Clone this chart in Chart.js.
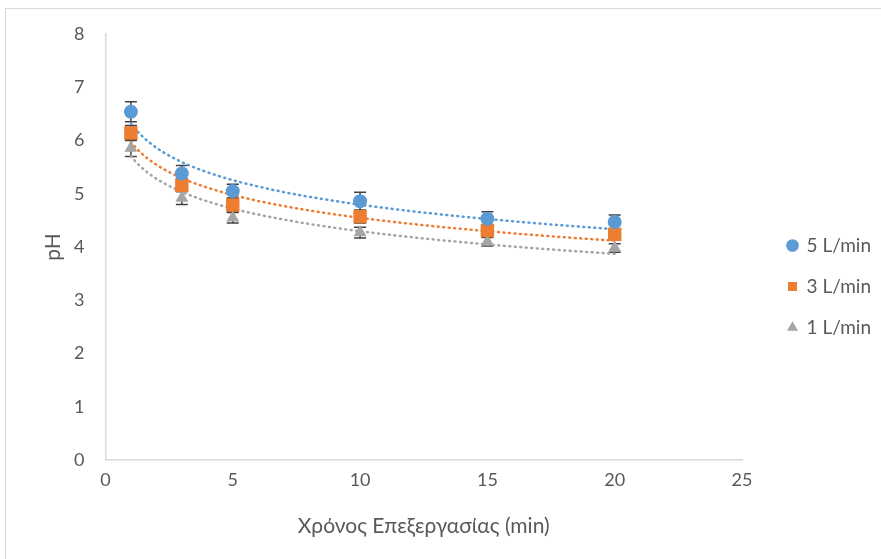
<!DOCTYPE html>
<html>
<head>
<meta charset="utf-8">
<script src="https://cdn.jsdelivr.net/npm/chart.js@4/dist/chart.umd.min.js"></script>
<style>
    body { margin: 0; background: #fff; }
    .frame { position: absolute; left: 5px; top: 8px; width: 900px; height: 600px; border: 1px solid #d9d9d9; }
    canvas { position: absolute; left: 0; top: 0; }
</style>
</head>
<body>
<div class="frame"></div>
<canvas id="chart" width="881" height="559"></canvas>
<script>
// treatment time (min)
const times = [1, 3, 5, 10, 15, 20]
// pH per air flow rate
const ph_5 = [6.54, 5.38, 5.05, 4.86, 4.53, 4.47]
const ph_3 = [6.14, 5.16, 4.79, 4.57, 4.31, 4.24]
const ph_1 = [5.86, 4.92, 4.55, 4.27, 4.10, 3.98]
// standard deviations for the error bars
const err_5 = [0.19, 0.15, 0.13, 0.17, 0.13, 0.13]
const err_3 = [0.14, 0.12, 0.12, 0.12, 0.10, 0.10]
const err_1 = [0.16, 0.12, 0.10, 0.10, 0.08, 0.08]
const labels = ['5 L/min', '3 L/min', '1 L/min']

const COLORS = {
    blue: '#5b9bd5',
    orange: '#ed7d31',
    gray: '#a5a5a5',
    text: '#595959',
    axis: '#d9d9d9',
    errbar: '#404040'
}

// least squares fit of y = a + b*ln(x), sampled for a dotted trendline
function log_trend(xs, ys){
    const lx = xs.map(x => Math.log(x))
    const n = xs.length
    const mx = lx.reduce((s, v) => s + v, 0) / n
    const my = ys.reduce((s, v) => s + v, 0) / n
    let sxy = 0, sxx = 0
    for(let i = 0; i < n; i++){
        sxy += (lx[i] - mx) * (ys[i] - my)
        sxx += (lx[i] - mx) * (lx[i] - mx)
    }
    const b = sxy / sxx
    const a = my - b * mx
    const pts = []
    const x0 = xs[0], x1 = xs[n - 1]
    for(let k = 0; k <= 120; k++){
        const x = x0 + (x1 - x0) * k / 120
        pts.push({ x: x, y: a + b * Math.log(x) })
    }
    return pts
}

function points(ys){
    return ys.map((y, i) => ({ x: times[i], y: y }))
}

function series(label, ys, errs, color, style, radius){
    return {
        label: label,
        data: points(ys),
        errors: errs,
        showLine: false,
        pointStyle: style,
        pointRadius: radius,
        pointHoverRadius: radius,
        pointBackgroundColor: color,
        pointBorderColor: color,
        backgroundColor: color,
        borderColor: color,
        borderWidth: 0,
        order: 1
    }
}

function trend(ys, color){
    return {
        label: 'trend',
        data: log_trend(times, ys),
        showLine: true,
        pointRadius: 0,
        borderColor: color,
        borderWidth: 2.5,
        borderDash: [1, 4.5],
        borderCapStyle: 'round',
        tension: 0,
        fill: false,
        order: 2
    }
}

// vertical error bars with caps, drawn under the markers
const errorBars = {
    id: 'errorBars',
    beforeDatasetsDraw(chart){
        const { ctx, scales: { x, y } } = chart
        ctx.save()
        ctx.strokeStyle = COLORS.errbar
        ctx.lineWidth = 1.5
        chart.data.datasets.forEach(ds => {
            if(!ds.errors) return
            ds.data.forEach((p, i) => {
                const px = x.getPixelForValue(p.x)
                const top = y.getPixelForValue(p.y + ds.errors[i])
                const bot = y.getPixelForValue(p.y - ds.errors[i])
                ctx.beginPath()
                ctx.moveTo(px, top); ctx.lineTo(px, bot)
                ctx.moveTo(px - 6, top); ctx.lineTo(px + 6, top)
                ctx.moveTo(px - 6, bot); ctx.lineTo(px + 6, bot)
                ctx.stroke()
            })
        })
        ctx.restore()
    }
}

const tick_font = { family: 'Lato', size: 18 }
const title_font = { family: 'Lato', size: 21 }

new Chart(document.getElementById('chart'), {
    type: 'scatter',
    data: {
        datasets: [
            trend(ph_5, COLORS.blue),
            trend(ph_3, COLORS.orange),
            trend(ph_1, COLORS.gray),
            series(labels[0], ph_5, err_5, COLORS.blue, 'circle', 7),
            series(labels[1], ph_3, err_3, COLORS.orange, 'rect', 9.5),
            series(labels[2], ph_1, err_1, COLORS.gray, 'triangle', 7.5)
        ]
    },
    options: {
        responsive: false,
        animation: false,
        layout: { padding: { left: 40, top: 34, right: 0, bottom: 20 } },
        scales: {
            x: {
                type: 'linear',
                min: 0, max: 25,
                ticks: { stepSize: 5, color: COLORS.text, font: tick_font, padding: 9 },
                grid: { display: false, drawTicks: false },
                border: { color: COLORS.axis, width: 1.5 },
                title: { display: true, text: 'Χρόνος Επεξεργασίας (min)', color: COLORS.text, font: title_font, padding: { top: 0, bottom: 0 } },
                afterFit(scale){ scale.height = 79 }
            },
            y: {
                min: 0, max: 8,
                ticks: { stepSize: 1, color: COLORS.text, font: tick_font, padding: 21 },
                grid: { display: false, drawTicks: false },
                border: { color: COLORS.axis, width: 1.5 },
                title: { display: true, text: 'pH', color: COLORS.text, font: { family: 'Lato', size: 21, lineHeight: 1 }, padding: { top: 3, bottom: -11 } }
            },
            // empty axis that keeps a gap between the plot and the legend
            gap: {
                position: 'right',
                display: true,
                ticks: { display: false },
                grid: { display: false, drawTicks: false },
                border: { display: false },
                afterFit(scale){ scale.width = 24 }
            }
        },
        plugins: {
            legend: {
                position: 'right',
                labels: {
                    usePointStyle: true,
                    boxWidth: 9,
                    boxHeight: 9,
                    padding: 22,
                    color: COLORS.text,
                    font: { family: 'Lato', size: 19 },
                    filter: item => item.text !== 'trend'
                }
            },
            tooltip: { enabled: false }
        }
    },
    plugins: [errorBars]
})
</script>
</body>
</html>
